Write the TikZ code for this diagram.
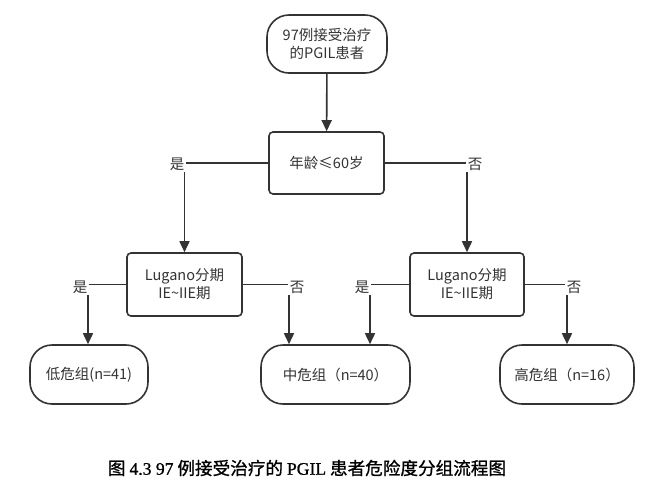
\documentclass[tikz,border=0pt]{standalone}
\usepackage{fontspec}
\setmainfont{Noto Sans CJK SC}
\newfontfamily\capser{Liberation Serif}[FakeBold=1]
\newfontfamily\capcjk{Noto Sans CJK SC}[FakeBold=1]
\usetikzlibrary{arrows.meta}
\definecolor{ink}{HTML}{333333}
\begin{document}
\begin{tikzpicture}[x=1pt,y=-1pt,
  every node/.style={text=ink,font=\fontsize{14.5}{18}\selectfont,align=center,inner sep=0pt},
  term/.style={draw=ink,line width=1.6pt,rounded corners=22pt},
  proc/.style={draw=ink,line width=1.6pt,rounded corners=4pt},
  arr/.style={draw=ink,line width=1.6pt,-{Triangle[length=11pt,width=10pt]}},
  lbl/.style={fill=white,inner sep=2pt}]
\useasboundingbox (0,0) rectangle (666,491);
\node[term,minimum width=120pt,minimum height=58pt] (top) at (327,44) {97例接受治疗\\的PGIL患者};
\node[proc,minimum width=115pt,minimum height=62pt] (dec) at (326.5,163) {年龄≤60岁};
\node[proc,minimum width=115pt,minimum height=63pt] (lugL) at (184.5,284.5) {Lugano分期\\IE\textasciitilde IIE期};
\node[proc,minimum width=114pt,minimum height=63pt] (lugR) at (467,284.5) {Lugano分期\\IE\textasciitilde IIE期};
\node[term,minimum width=118pt,minimum height=59pt] (low) at (89,374.5) {低危组(n=41)};
\node[term,minimum width=149pt,minimum height=59pt] (mid) at (335.5,374.5) {中危组（n=40）};
\node[term,minimum width=134pt,minimum height=59pt] (high) at (567,374.5) {高危组（n=16）};
\draw[arr] (top) -- (dec);
\draw[arr] (dec.west) -| (lugL.north);
\draw[arr] (dec.east) -| (lugR.north);
\draw[arr] (lugL.west) -| ([xshift=-1pt]low.north);
\draw[arr] (lugL.east) -| ([xshift=-46.5pt]mid.north);
\draw[arr] (lugR.west) -| ([xshift=34.5pt]mid.north);
\draw[arr] (lugR.east) -| (high.north);
\node[lbl] (y1) at (177,164) {是};
\node[lbl] (n1) at (475,164) {否};
\node[lbl] (y2) at (80,287) {是};
\node[lbl] (n2) at (297,287) {否};
\node[lbl] (y3) at (362,287) {是};
\node[lbl] (n3) at (574,287) {否};
\node[font=\fontsize{17.6}{21}\selectfont,text=black] (cap) at (307,468) {\capcjk 图 {\capser 4.3 97} 例接受治疗的 {\capser PGIL} 患者危险度分组流程图};
\end{tikzpicture}
\end{document}
